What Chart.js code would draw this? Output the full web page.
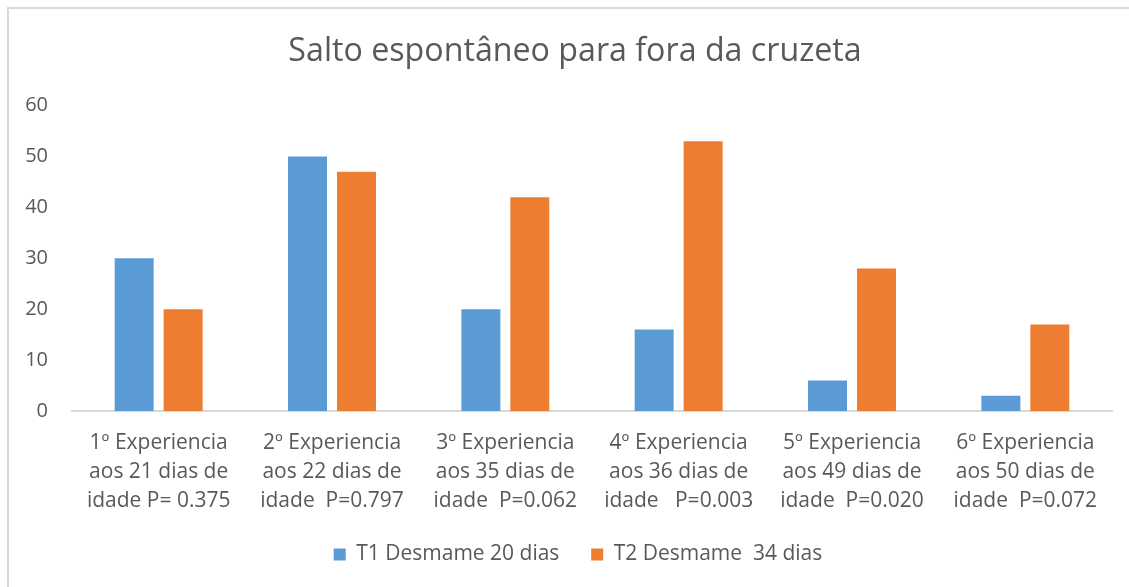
<!DOCTYPE html>
<html>
<head>
<meta charset="utf-8">
<script src="https://cdn.jsdelivr.net/npm/chart.js@4/dist/chart.umd.min.js"></script>
<style>
  html, body { margin: 0; padding: 0; background: #fff; overflow: hidden; }
  #frame {
    position: absolute; left: 7px; top: 7px; width: 1200px; height: 700px;
    border-left: 2px solid #d9d9d9; border-top: 2px solid #d9d9d9;
    box-sizing: border-box;
  }
  #wrap { position: absolute; left: 0; top: 0; width: 1129px; height: 587px; }
</style>
</head>
<body>
<div id="frame"></div>
<div id="wrap"><canvas id="chart"></canvas></div>
<script>
// dados do gráfico
const categories = [
  ["1º Experiencia", "aos 21 dias de", "idade P= 0.375"],
  ["2º Experiencia", "aos 22 dias de", "idade  P=0.797"],
  ["3º Experiencia", "aos 35 dias de", "idade  P=0.062"],
  ["4º Experiencia", "aos 36 dias de", "idade   P=0.003"],
  ["5º Experiencia", "aos 49 dias de", "idade  P=0.020"],
  ["6º Experiencia", "aos 50 dias de", "idade  P=0.072"]
];
const t1Values = [30, 50, 20, 16, 6, 3];
const t2Values = [20, 47, 42, 53, 28, 17];
const seriesNames = ["T1 Desmame 20 dias", "T2 Desmame  34 dias"];
const yTicks = [0, 10, 20, 30, 40, 50, 60];

const textColor = "#595959";
const fontFamily = "'Open Sans', Lato, sans-serif";

// desloca título e legenda um pouco para a direita (como no Excel)
const shiftBoxes = {
  id: "shiftBoxes",
  afterLayout(chart) {
    const shifts = [[chart.titleBlock, 19], [chart.legend, 22]];
    shifts.forEach(([box, dx]) => {
      if (box) {
        box.left += dx;
        box.right += dx;
      }
    });
  }
};

const ctx = document.getElementById("chart").getContext("2d");
new Chart(ctx, {
  type: "bar",
  data: {
    labels: categories,
    datasets: [
      {
        label: seriesNames[0],
        data: t1Values,
        backgroundColor: "#5B9BD5",
        categoryPercentage: 0.565,
        barPercentage: 0.796
      },
      {
        label: seriesNames[1],
        data: t2Values,
        backgroundColor: "#ED7D31",
        categoryPercentage: 0.565,
        barPercentage: 0.796
      }
    ]
  },
  plugins: [shiftBoxes],
  options: {
    responsive: true,
    maintainAspectRatio: false,
    animation: false,
    layout: { padding: { left: 0, right: 17, top: 0, bottom: 12 } },
    plugins: {
      title: {
        display: true,
        text: "Salto espontâneo para fora da cruzeta",
        color: textColor,
        font: { family: fontFamily, size: 32.2, weight: "normal" },
        padding: { top: 33, bottom: 34 }
      },
      legend: {
        position: "bottom",
        labels: {
          color: textColor,
          font: { family: fontFamily, size: 21 },
          boxWidth: 12,
          boxHeight: 12,
          padding: 10,
          // espaço extra entre as duas entradas da legenda
          generateLabels: (chart) => {
            const items = Chart.defaults.plugins.legend.labels.generateLabels(chart);
            items[0].text = items[0].text + "    ";
            return items;
          }
        }
      },
      tooltip: { enabled: false }
    },
    scales: {
      x: {
        grid: { display: false, drawTicks: false },
        border: { display: true, color: "#d9d9d9", width: 2 },
        ticks: {
          color: textColor,
          font: { family: fontFamily, size: 21, lineHeight: 1.38 },
          padding: 18,
          maxRotation: 0,
          autoSkip: false
        },
        afterFit: (scale) => { scale.height = 123; }
      },
      y: {
        min: 0,
        max: 60,
        afterBuildTicks: (scale) => { scale.ticks = yTicks.map(v => ({ value: v })); },
        grid: { display: false, drawTicks: false },
        border: { display: false },
        ticks: {
          color: textColor,
          font: { family: fontFamily, size: 20 },
          padding: 24
        },
        afterFit: (scale) => { scale.width = 72; }
      }
    }
  }
});
</script>
</body>
</html>
